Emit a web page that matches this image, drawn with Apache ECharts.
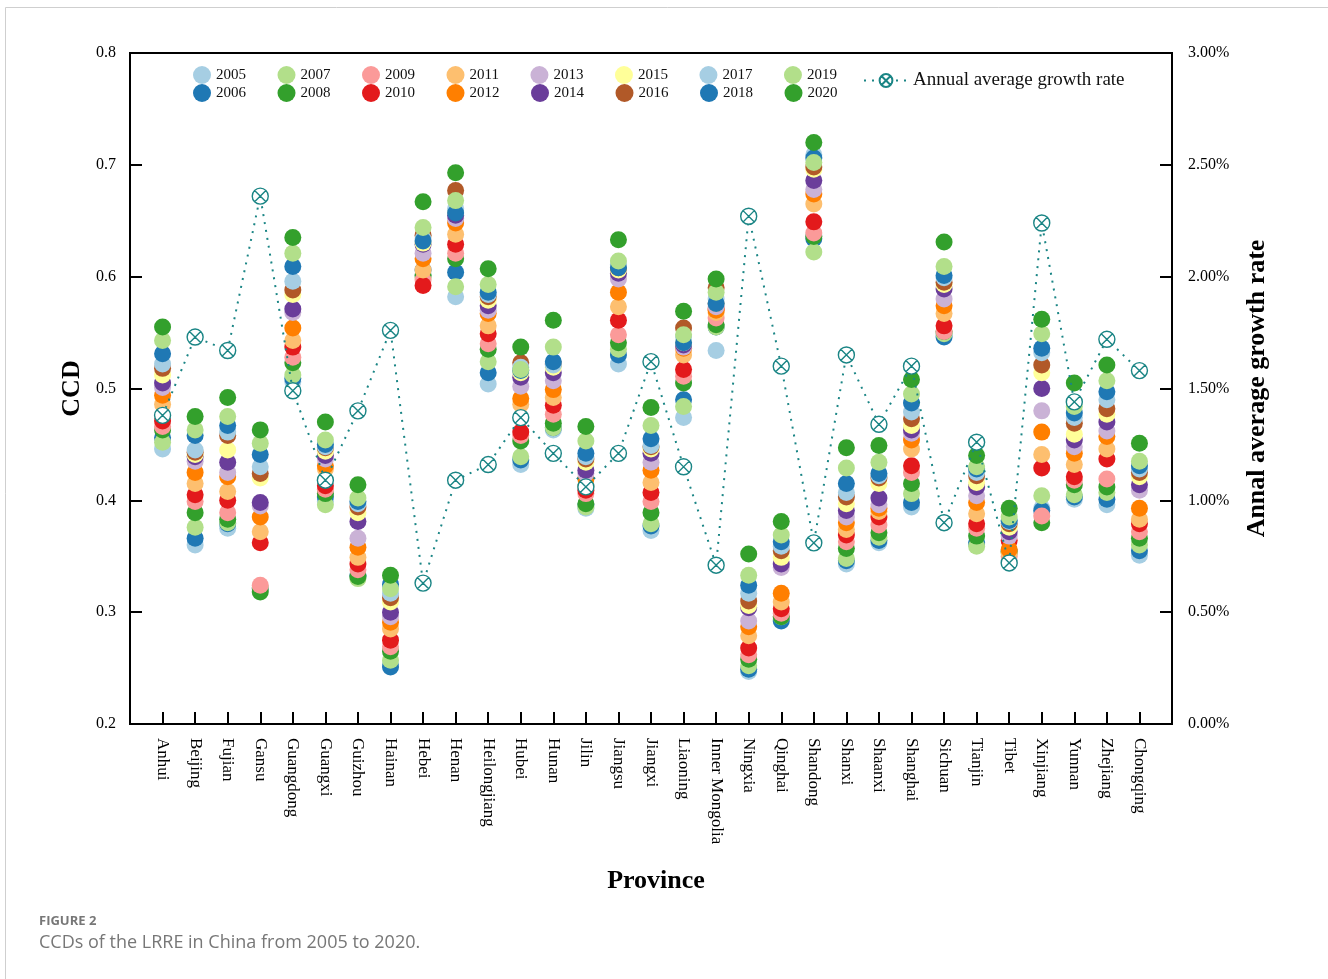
<!DOCTYPE html>
<html>
<head>
<meta charset="utf-8">
<script src="https://cdn.jsdelivr.net/npm/echarts@6/dist/echarts.min.js"></script>
<style>
  html, body { margin: 0; padding: 0; background: #fff; }
  #chart { width: 1328px; height: 979px; }
</style>
</head>
<body>
<div id="chart"></div>
<script>
// Provinces along the horizontal axis
const provinces = ['Anhui', 'Beijing', 'Fujian', 'Gansu', 'Guangdong', 'Guangxi', 'Guizhou', 'Hainan',
  'Hebei', 'Henan', 'Heilongjiang', 'Hubei', 'Hunan', 'Jilin', 'Jiangsu', 'Jiangxi', 'Liaoning',
  'Inner Mongolia', 'Ningxia', 'Qinghai', 'Shandong', 'Shanxi', 'Shaanxi', 'Shanghai', 'Sichuan',
  'Tianjin', 'Tibet', 'Xinjiang', 'Yunnan', 'Zhejiang', 'Chongqing'];

const years = [2005, 2006, 2007, 2008, 2009, 2010, 2011, 2012, 2013, 2014, 2015, 2016, 2017, 2018, 2019, 2020];

// Paired palette, repeated for the last four years
const yearColors = ['#a6cee3', '#1f78b4', '#b2df8a', '#33a02c', '#fb9a99', '#e31a1c', '#fdbf6f', '#ff7f00',
  '#cab2d6', '#6a3d9a', '#ffff99', '#b15928', '#a6cee3', '#1f78b4', '#b2df8a', '#33a02c'];

// CCD per province, 2005 .. 2020
const anhui        = [0.446, 0.456, 0.452, 0.463, 0.466, 0.471, 0.486, 0.494, 0.501, 0.505, 0.512, 0.518, 0.522, 0.531, 0.543, 0.555];
const beijing      = [0.360, 0.366, 0.376, 0.389, 0.399, 0.405, 0.415, 0.425, 0.435, 0.439, 0.441, 0.443, 0.445, 0.458, 0.463, 0.475];
const fujian       = [0.375, 0.379, 0.380, 0.383, 0.389, 0.400, 0.408, 0.421, 0.425, 0.434, 0.445, 0.458, 0.461, 0.467, 0.475, 0.492];
const gansu        = [0.322, 0.321, 0.322, 0.318, 0.324, 0.362, 0.372, 0.385, 0.395, 0.398, 0.420, 0.424, 0.430, 0.441, 0.451, 0.463];
const guangdong    = [0.506, 0.509, 0.512, 0.523, 0.528, 0.537, 0.543, 0.554, 0.568, 0.571, 0.584, 0.588, 0.596, 0.609, 0.621, 0.635];
const guangxi      = [0.399, 0.403, 0.396, 0.406, 0.410, 0.413, 0.428, 0.431, 0.437, 0.440, 0.444, 0.447, 0.448, 0.450, 0.454, 0.470];
const guizhou      = [0.331, 0.333, 0.330, 0.332, 0.338, 0.343, 0.349, 0.358, 0.366, 0.381, 0.389, 0.394, 0.397, 0.399, 0.402, 0.414];
const hainan       = [0.254, 0.251, 0.257, 0.265, 0.269, 0.275, 0.285, 0.291, 0.296, 0.300, 0.309, 0.313, 0.317, 0.325, 0.321, 0.333];
const hebei        = [0.602, 0.606, 0.599, 0.601, 0.597, 0.592, 0.606, 0.616, 0.621, 0.629, 0.630, 0.637, 0.634, 0.632, 0.644, 0.667];
const henan        = [0.582, 0.604, 0.591, 0.616, 0.621, 0.629, 0.638, 0.648, 0.652, 0.655, 0.658, 0.677, 0.661, 0.657, 0.668, 0.693];
const heilongjiang = [0.504, 0.514, 0.524, 0.535, 0.540, 0.549, 0.556, 0.567, 0.570, 0.574, 0.579, 0.582, 0.584, 0.586, 0.593, 0.607];
const hubei        = [0.432, 0.436, 0.439, 0.453, 0.458, 0.461, 0.486, 0.491, 0.502, 0.510, 0.514, 0.523, 0.519, 0.516, 0.517, 0.537];
const hunan        = [0.463, 0.465, 0.465, 0.469, 0.477, 0.485, 0.492, 0.499, 0.507, 0.514, 0.519, 0.522, 0.521, 0.524, 0.537, 0.561];
const jilin        = [0.393, 0.396, 0.394, 0.397, 0.406, 0.409, 0.413, 0.419, 0.424, 0.427, 0.434, 0.437, 0.439, 0.442, 0.453, 0.466];
const jiangsu      = [0.522, 0.530, 0.535, 0.541, 0.548, 0.561, 0.573, 0.586, 0.598, 0.603, 0.606, 0.608, 0.611, 0.608, 0.614, 0.633];
const jiangxi      = [0.373, 0.377, 0.379, 0.389, 0.399, 0.407, 0.416, 0.427, 0.434, 0.442, 0.446, 0.448, 0.449, 0.455, 0.467, 0.483];
const liaoning     = [0.474, 0.490, 0.484, 0.505, 0.511, 0.517, 0.530, 0.536, 0.537, 0.539, 0.541, 0.554, 0.546, 0.541, 0.548, 0.569];
const innerMongolia= [0.534, 0.555, 0.555, 0.557, 0.563, 0.571, 0.568, 0.570, 0.573, 0.576, 0.576, 0.590, 0.580, 0.576, 0.586, 0.598];
const ningxia      = [0.247, 0.249, 0.252, 0.258, 0.262, 0.268, 0.279, 0.287, 0.292, 0.304, 0.306, 0.310, 0.317, 0.324, 0.333, 0.352];
const qinghai      = [0.294, 0.292, 0.296, 0.296, 0.299, 0.303, 0.309, 0.317, 0.340, 0.343, 0.349, 0.355, 0.359, 0.363, 0.369, 0.381];
const shandong     = [0.637, 0.634, 0.622, 0.636, 0.639, 0.649, 0.665, 0.674, 0.678, 0.686, 0.696, 0.698, 0.709, 0.706, 0.702, 0.720];
const shanxi       = [0.343, 0.346, 0.348, 0.357, 0.363, 0.369, 0.374, 0.380, 0.385, 0.391, 0.397, 0.403, 0.407, 0.415, 0.429, 0.447];
const shaanxi      = [0.362, 0.364, 0.367, 0.371, 0.378, 0.385, 0.390, 0.393, 0.396, 0.402, 0.415, 0.420, 0.422, 0.424, 0.434, 0.449];
const shanghai     = [0.394, 0.398, 0.406, 0.415, 0.425, 0.431, 0.446, 0.454, 0.460, 0.463, 0.467, 0.473, 0.479, 0.487, 0.495, 0.508];
const sichuan      = [0.549, 0.546, 0.549, 0.551, 0.551, 0.556, 0.567, 0.574, 0.580, 0.589, 0.593, 0.595, 0.599, 0.601, 0.609, 0.631];
const tianjin      = [0.361, 0.362, 0.359, 0.368, 0.375, 0.379, 0.388, 0.398, 0.404, 0.412, 0.416, 0.422, 0.425, 0.428, 0.430, 0.440];
const tibet        = [0.354, 0.355, 0.353, 0.354, 0.350, 0.364, 0.353, 0.356, 0.368, 0.372, 0.376, 0.379, 0.381, 0.382, 0.385, 0.393];
const xinjiang     = [0.393, 0.391, 0.404, 0.380, 0.386, 0.429, 0.441, 0.461, 0.480, 0.500, 0.514, 0.521, 0.532, 0.536, 0.549, 0.562];
const yunnan       = [0.401, 0.403, 0.405, 0.414, 0.418, 0.421, 0.432, 0.442, 0.448, 0.454, 0.459, 0.469, 0.474, 0.478, 0.484, 0.505];
const zhejiang     = [0.396, 0.401, 0.407, 0.412, 0.419, 0.437, 0.446, 0.457, 0.462, 0.470, 0.477, 0.482, 0.490, 0.497, 0.507, 0.521];
const chongqing    = [0.351, 0.355, 0.360, 0.366, 0.372, 0.379, 0.383, 0.393, 0.409, 0.414, 0.421, 0.425, 0.428, 0.431, 0.435, 0.451];

const ccdRows = [anhui, beijing, fujian, gansu, guangdong, guangxi, guizhou, hainan, hebei, henan,
  heilongjiang, hubei, hunan, jilin, jiangsu, jiangxi, liaoning, innerMongolia, ningxia, qinghai,
  shandong, shanxi, shaanxi, shanghai, sichuan, tianjin, tibet, xinjiang, yunnan, zhejiang, chongqing];

// Annual average growth rate (%) per province
const growthRate = [1.38, 1.73, 1.67, 2.36, 1.49, 1.09, 1.40, 1.76, 0.63, 1.09, 1.16, 1.37, 1.21, 1.06,
  1.21, 1.62, 1.15, 0.71, 2.27, 1.60, 0.81, 1.65, 1.34, 1.60, 0.90, 1.26, 0.72, 2.24, 1.44, 1.72, 1.58];

const growthName = 'Annual average growth rate';
const teal = '#1a8585';
const serif = 'Liberation Serif';
// circle with a cross through it
const crossCircle = 'path://M0,10 A10,10 0 1,1 20,10 A10,10 0 1,1 0,10 Z M2.93,2.93 L17.07,17.07 M17.07,2.93 L2.93,17.07';

const yearSeries = years.map((yr, j) => ({
  type: 'scatter',
  name: String(yr),
  symbol: 'circle',
  symbolSize: 17,
  itemStyle: { color: yearColors[j], opacity: 1 },
  z: 2,
  data: ccdRows.map((row, i) => [i + 1, row[j]])
}));

const growthSeries = {
  type: 'line',
  name: growthName,
  yAxisIndex: 1,
  symbol: crossCircle,
  symbolSize: 16,
  showAllSymbol: true,
  lineStyle: { color: teal, width: 2, type: [2, 6] },
  itemStyle: { color: '#ffffff', borderColor: teal, borderWidth: 1.4 },
  z: 10,
  data: growthRate.map((g, i) => [i + 1, g])
};

const legendText = { fontFamily: serif, fontSize: 15, color: '#111' };
const oddYears = years.filter((y, j) => j % 2 === 0).map(String);
const evenYears = years.filter((y, j) => j % 2 === 1).map(String);

const option = {
  animation: false,
  backgroundColor: '#ffffff',
  grid: { left: 130, right: 156, top: 53, bottom: 255, show: true, borderColor: '#000', borderWidth: 2 },
  legend: [
    { data: oddYears, left: 188, top: 61, icon: 'circle', itemWidth: 18, itemHeight: 18, itemGap: 31.5, textStyle: legendText, selectedMode: false },
    { data: evenYears, left: 188, top: 79, icon: 'circle', itemWidth: 18, itemHeight: 18, itemGap: 31.5, textStyle: legendText, selectedMode: false },
    { data: [growthName], left: 858, top: 66, itemWidth: 44, itemHeight: 16, textStyle: { fontFamily: serif, fontSize: 19, color: '#111' }, selectedMode: false }
  ],
  xAxis: {
    type: 'value', min: 0, max: 32, interval: 1,
    name: 'Province', nameLocation: 'middle', nameGap: 144,
    nameTextStyle: { fontFamily: serif, fontSize: 26, fontWeight: 'bold', color: '#000', padding: [0, 0, 0, 10] },
    axisLine: { show: true, lineStyle: { color: '#000', width: 2 } },
    axisTick: { show: true, inside: true, length: 12, lineStyle: { color: '#000', width: 2 } },
    axisLabel: {
      rotate: -90, margin: 14, fontFamily: serif, fontSize: 17, color: '#000',
      formatter: v => provinces[v - 1] || ''
    },
    splitLine: { show: false }
  },
  yAxis: [
    {
      type: 'value', min: 0.2, max: 0.8, interval: 0.1, position: 'left',
      name: 'CCD', nameLocation: 'middle', nameGap: 43, nameRotate: 90,
      nameTextStyle: { fontFamily: serif, fontSize: 26, fontWeight: 'bold', color: '#000' },
      axisLine: { show: true, lineStyle: { color: '#000', width: 2 } },
      axisTick: { show: true, inside: true, length: 12, lineStyle: { color: '#000', width: 2 } },
      axisLabel: { fontFamily: serif, fontSize: 16, color: '#000', margin: 14, formatter: v => v.toFixed(1) },
      splitLine: { show: false }
    },
    {
      type: 'value', min: 0, max: 3, interval: 0.5, position: 'right',
      name: 'Annal average growth rate', nameLocation: 'middle', nameGap: 72, nameRotate: 90,
      nameTextStyle: { fontFamily: serif, fontSize: 26, fontWeight: 'bold', color: '#000' },
      axisLine: { show: true, lineStyle: { color: '#000', width: 2 } },
      axisTick: { show: true, inside: true, length: 12, lineStyle: { color: '#000', width: 2 } },
      axisLabel: { fontFamily: serif, fontSize: 16, color: '#000', margin: 16, formatter: v => v.toFixed(2) + '%' },
      splitLine: { show: false }
    }
  ],
  graphic: [
    { type: 'rect', shape: { x: 5.5, y: 7.5, width: 1340, height: 990 }, style: { fill: 'none', stroke: '#cfcfcf', lineWidth: 1 }, silent: true },
    { type: 'text', left: 39, top: 915, style: { text: 'FIGURE 2', fontFamily: 'Open Sans', fontSize: 13, fontWeight: 'bold', fill: '#777' } },
    { type: 'text', left: 39, top: 934, style: { text: 'CCDs of the LRRE in China from 2005 to 2020.', fontFamily: 'Open Sans', fontSize: 18, fill: '#777' } }
  ],
  series: [...yearSeries, growthSeries]
};

const chart = echarts.init(document.getElementById('chart'), null, { renderer: 'canvas' });
chart.setOption(option);
</script>
</body>
</html>
